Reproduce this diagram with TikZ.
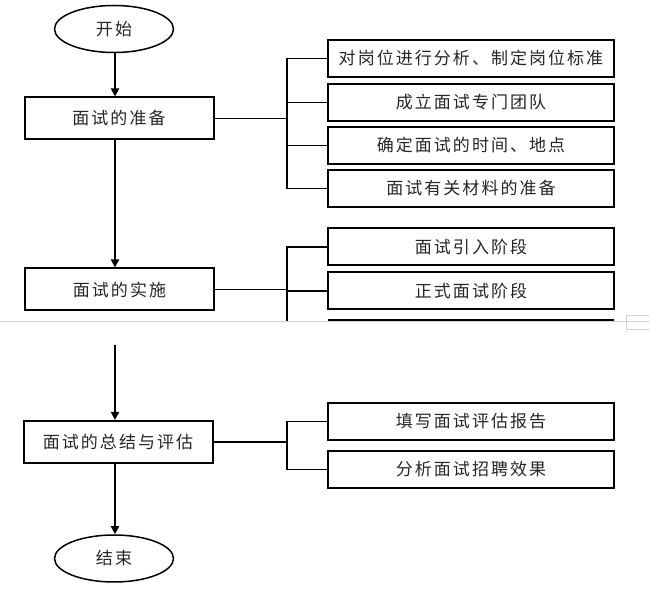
\documentclass[tikz,border=0pt]{standalone}
\usepackage{fontspec}
\newfontfamily\cjk[LetterSpace=12]{Noto Sans CJK SC}
\usetikzlibrary{shapes.geometric,arrows.meta}
\begin{document}
\begin{tikzpicture}[x=1pt,y=-1pt,
  every node/.style={font=\cjk\fontsize{17}{20}\selectfont, text=black!85, inner sep=0pt},
  mainbox/.style={draw, line width=2pt, rectangle, minimum width=189pt, minimum height=42pt},
  subbox/.style={draw, line width=2pt, rectangle, minimum width=286pt, minimum height=37pt},
  term/.style={draw, line width=1.5pt, ellipse, minimum width=119pt, minimum height=47pt},
  conn/.style={line width=1.8pt},
  arr/.style={line width=1.8pt, -{Triangle[length=8pt,width=8pt]}},
  pagebreak/.style={draw=black!18, line width=1pt}]
\useasboundingbox (0,0) rectangle (649,601);
\fill[white] (0,0) rectangle (649,601);

% main column
\node[term] (start) at (114,29) {开始};
\node[mainbox] (prep) at (119,118.5) {面试的准备};
\node[mainbox] (impl) at (119.5,289.5) {面试的实施};
\node[mainbox] (summ) at (118,442) {面试的总结与评估};
\node[term] (end) at (114,558.5) {结束};

% right boxes
\node[subbox] (r1) at (471,58.5) {对岗位进行分析、制定岗位标准};
\node[subbox] (r2) at (471,102.5) {成立面试专门团队};
\node[subbox] (r3) at (471,145.5) {确定面试的时间、地点};
\node[subbox] (r4) at (471,188.5) {面试有关材料的准备};
\node[subbox] (r5) at (471,247) {面试引入阶段};
\node[subbox] (r6) at (471,291) {正式面试阶段};
\node[subbox] (r8) at (471,421.5) {填写面试评估报告};
\node[subbox] (r9) at (471,469.5) {分析面试招聘效果};

% cut-off box top edge and bracket ends at the page break
\coordinate (r7a) at (328,320);
\coordinate (r7b) at (614,320);
\coordinate (b2end) at (287,321);
\coordinate (a3start) at (115,345);
\coordinate (bx) at (287,0);

% page break marker
\coordinate (pbl) at (0,322);
\coordinate (pbr) at (649,322);
\draw[pagebreak] (pbl) -- (pbr);
\draw[pagebreak] (626,316) rectangle (649,330);

% arrows
\draw[arr] (start.south -| 115,0) -- (prep.north -| 115,0);
\draw[arr] (prep.south -| 115,0) -- (impl.north -| 115,0);
\draw[arr] (a3start) -- (summ.north -| a3start);
\draw[arr] (summ.south -| 115,0) -- (end.north -| 115,0);

% group 1
\draw[conn] (r1.west) -| (r1.west -| bx) |- (r4.west);
\draw[conn] (r2.west) -- (r2.west -| bx);
\draw[conn] (r3.west) -- (r3.west -| bx);
\draw[conn] (prep.east) -- (prep.east -| bx);

% group 2
\draw[conn] (r5.west) -- (r5.west -| bx) -- (b2end);
\draw[conn] (r6.west) -- (r6.west -| bx);
\draw[conn] (impl.east) -- (impl.east -| bx);
\draw[line width=1.8pt] (r7a) -- (r7b);

% group 3
\draw[conn] (r8.west) -- (r8.west -| bx) |- (r9.west);
\draw[conn] (summ.east) -- (summ.east -| bx);
\end{tikzpicture}
\end{document}
